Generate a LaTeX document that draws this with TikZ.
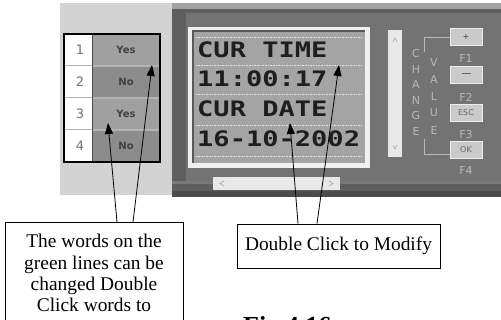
\documentclass[tikz,border=0pt]{standalone}
\usepackage{fontspec}
\setmainfont{Liberation Serif}
\newfontfamily\uifont{DejaVu Sans}
\newfontfamily\lcdfont{DejaVu Sans Mono}
\usepackage{graphicx}
\usetikzlibrary{arrows.meta, calc}

\definecolor{sidegray}{HTML}{D3D3D3}
\definecolor{panelgray}{HTML}{737373}
\definecolor{paneldark}{HTML}{5E5E5E}
\definecolor{panellight}{HTML}{A2A2A2}
\definecolor{lcdback}{HTML}{A4A4A4}
\definecolor{lcdedge}{HTML}{5A5A5A}
\definecolor{lcdink}{HTML}{1E1E1E}
\definecolor{rowlight}{HTML}{A0A0A0}
\definecolor{rowdark}{HTML}{8C8C8C}
\definecolor{rowline}{HTML}{B4B4B4}
\definecolor{keygray}{HTML}{CACACA}
\definecolor{labelgray}{HTML}{B8B8B8}

\tikzset{
  notebox/.style={draw, line width=0.8pt, fill=white, align=center,
    font=\fontsize{19.4}{21.3}\selectfont},
  pointer/.style={-{Triangle[length=11pt,width=8pt]}, line width=0.8pt},
  lcdtext/.style={anchor=base west, inner sep=0pt, text=lcdink,
    font=\lcdfont\bfseries\fontsize{21.3}{21.3}\selectfont},
  keybox/.style={fill=keygray, draw=white!85!gray, line width=0.6pt},
  keylabel/.style={font=\uifont\fontsize{8}{8}\selectfont, text=gray!80!black, inner sep=0pt},
  flabel/.style={font=\uifont\fontsize{11}{11}\selectfont, text=labelgray, inner sep=0pt},
  sidelabel/.style={font=\uifont\fontsize{11}{11}\selectfont, text=labelgray, inner sep=0pt}
}

\begin{document}
\begin{tikzpicture}[x=1pt, y=-1pt]
  \useasboundingbox (0,0) rectangle (501,320);
  \clip (0,0) rectangle (501,320);

  % option table on the left
  \fill[sidegray] (60,3) rectangle (172,195);
  \fill[white] (64,34) rectangle (92,162);
  \foreach \r/\val/\shade in {1/Yes/rowlight, 2/No/rowdark, 3/Yes/rowlight, 4/No/rowdark} {
    \fill[\shade] (92,{2+32*\r}) rectangle (160,{34+32*\r});
    \node[font=\uifont\fontsize{13}{13}\selectfont, text=gray!90!black] at (80,{18+32*\r}) {\r};
    \node[font=\uifont\bfseries\fontsize{10}{10}\selectfont, text=black!75] at (126,{18+32*\r}) {\val};
  }
  \foreach \r in {1,2,3} {
    \draw[rowline, line width=1.5pt] (92,{34+32*\r}) -- (160,{34+32*\r});
    \draw[gray!60, line width=1pt] (64,{34+32*\r}) -- (92,{34+32*\r});
  }
  \draw[black!70] (92,34) -- (92,162);
  \draw[line width=2.5pt] (64,34) rectangle (160,162);

  % instrument panel
  \fill[panelgray] (172,3) rectangle (501,197);
  \fill[panellight] (172,3) rectangle (501,9);
  \fill[paneldark] (172,9) rectangle (501,13);
  \fill[paneldark] (172,13) rectangle (186,183);
  \fill[gray!95!black] (172,181) rectangle (501,184);
  \fill[paneldark] (172,184) rectangle (501,191);
  \fill[black!70] (172,191) rectangle (501,197);

  % display
  \fill[white!88!gray] (188,27) rectangle (370,168);
  \fill[lcdback] (193,31) rectangle (365,163);
  \draw[lcdedge, line width=2pt] (193,163) -- (193,31) -- (365,31);
  \foreach \yy in {37,65,94,125,156}
    \draw[white!80!gray, densely dotted, line width=0.6pt] (196,\yy) -- (362,\yy);
  \node[lcdtext] (curtime) at (197,58) {\scalebox{1.27}[1]{CUR TIME}};
  \node[lcdtext] (timeval) at (197,87) {\scalebox{1.27}[1]{11:00:17}};
  \node[lcdtext] (curdate) at (197,117) {\scalebox{1.27}[1]{CUR DATE}};
  \node[lcdtext] (dateval) at (197,147) {\scalebox{1.27}[1]{16-10-2002}};

  % scroll bars
  \fill[white!82!gray] (388,30) rectangle (402,157);
  \draw[gray!70, line width=0.6pt] (393,42) -- (395,38) -- (397,42);
  \draw[gray!70, line width=0.6pt] (393,145) -- (395,149) -- (397,145);
  \fill[white!82!gray] (213,177) rectangle (340,190);
  \draw[gray!70, line width=0.6pt] (224,181) -- (220,183.5) -- (224,186);
  \draw[gray!70, line width=0.6pt] (329,181) -- (333,183.5) -- (329,186);

  % change value keys
  \draw[labelgray, line width=0.8pt] (450,37) -- (424,37) -- (424,52);
  \draw[labelgray, line width=0.8pt] (424,139) -- (424,154) -- (450,154);
  \foreach \ch [count=\i] in {C,H,A,N,G,E}
    \node[sidelabel] at (416,{38+15.5*\i}) {\ch};
  \foreach \ch [count=\i] in {V,A,L,U,E}
    \node[sidelabel] at (434,{45+17*\i}) {\ch};
  \foreach \ytop/\key/\fy [count=\i] in {28/{\bfseries +}/58, 66/{\rule[2.5pt]{9pt}{0.8pt}}/97, 104/ESC/134, 141/OK/170} {
    \draw[keybox] (450,\ytop) rectangle (482,{\ytop+17});
    \node[keylabel] at (466,{\ytop+8.5}) {\key};
    \node[flabel] at (466,\fy) {F\i};
  }

  % callouts
  \node[notebox, anchor=north, minimum width=178pt, inner ysep=12pt] (wordsbox) at (94,222)
    {The words on the\\green lines can be\\changed Double\\Click words to\rule[-14pt]{0pt}{14pt}};
  \node[notebox, minimum width=203pt, minimum height=44pt] (modbox) at (338.5,246) {Double Click to Modify};

  \coordinate (tipYesB) at (108,123);
  \coordinate (tipYesA) at (152,65);
  \coordinate (tipDate) at (290,123);
  \coordinate (tipTime) at (339,65);
  \draw[pointer] ([xshift=23pt]wordsbox.north) -- (tipYesB);
  \draw[pointer] ([xshift=39pt]wordsbox.north) -- (tipYesA);
  \draw[pointer] ([xshift=-40.5pt]modbox.north) -- (tipDate);
  \draw[pointer] ([xshift=-21.5pt]modbox.north) -- (tipTime);

  \node[anchor=base west, inner sep=0pt, font=\bfseries\fontsize{26}{26}\selectfont] (caption) at (243,335) {Fig 4.16};
\end{tikzpicture}
\end{document}
